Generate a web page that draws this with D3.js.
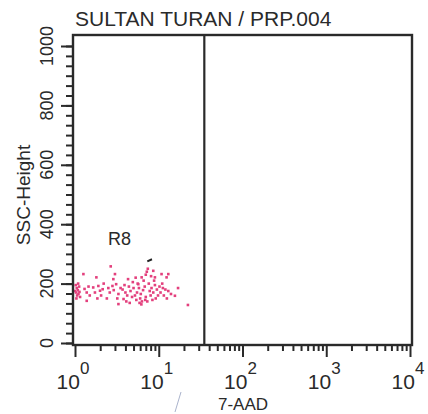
<!DOCTYPE html>
<html><head><meta charset="utf-8">
<script src="https://cdn.jsdelivr.net/npm/d3@7"></script>
<style>html,body{margin:0;padding:0;background:#fff;}svg{display:block;}</style>
</head><body>
<svg id="c" width="428" height="414"></svg>
<script>
const title = "SULTAN TURAN / PRP.004";
const xLabel = "7-AAD";
const yLabel = "SSC-Height";
const gateLabel = "R8";
const gateX = 35;
const yTickValues = [0, 200, 400, 600, 800, 1000];
const xTickExponents = [0, 1, 2, 3, 4];
// events: 7-AAD (log), SSC-Height (linear)
const eventX = [1.02,1.05,1.08,1.03,1.1,1.06,1.12,1.0,1.15,1.04,1.09,1.13,
  1.26,1.3,1.38,1.38,1.45,1.5,
  1.65,1.73,1.8,1.9,1.99,2.14,2.05,1.85,2.2,
  2.67,2.5,2.6,2.8,3.0,2.87,3.1,2.9,3.3,3.3,3.5,2.4,3.2,
  3.7,3.9,4.0,4.2,4.4,4.6,4.8,4.1,3.8,4.5,4.9,4.3,5.0,
  5.2,5.4,5.5,5.6,5.8,6.0,6.1,6.3,6.5,6.6,6.8,7.0,5.3,6.2,5.9,6.9,7.0,5.7,6.25,
  7.2,7.4,7.6,7.8,8.0,8.2,8.4,8.6,8.8,9.0,9.2,9.5,9.8,7.3,8.1,9.0,8.6,
  10.2,10.5,11,11.5,12,12.5,13,10.8,12.4,13,14,15.6,11.2,
  17,22.3];
const eventY = [195,185,178,170,165,160,190,175,155,150,200,172,
  232,182,170,142,190,160,
  187,170,221,192,176,181,160,150,200,
  258,185,170,192,232,215,198,178,165,131,185,150,150,
  180,195,170,160,190,175,155,140,148,135,205,215,185,
  160,145,170,200,185,150,165,140,178,210,190,155,220,130,135,145,230,198,221,
  240,250,200,175,160,185,145,170,210,195,150,180,160,140,225,221,243,
  190,170,200,160,180,150,175,232,221,232,165,159,185,
  185,128];

const svg = d3.select("#c");
const ink = "#2a2a2a";
const font = "'Liberation Sans', Arial, Helvetica, sans-serif";

const x = d3.scaleLog().domain([1, 1e4]).range([75, 410]);
const y = d3.scaleLinear().domain([0, 1000]).range([343, 46]);
const frame = {l: 73, r: 412, t: 35, b: 345};

// title
svg.append("text").attr("x", 75).attr("y", 26)
  .attr("font-family", font).attr("font-size", 21).attr("fill", ink).text(title);

// points
const pts = eventX.map((v, i) => ({x: v, y: eventY[i]}));
svg.append("g").selectAll("rect").data(pts).join("rect")
  .attr("x", d => x(d.x) - 1.3).attr("y", d => y(d.y) - 1.3)
  .attr("width", 2.6).attr("height", 2.6).attr("fill", "#e3407d");

// frame
svg.append("rect").attr("x", frame.l).attr("y", frame.t)
  .attr("width", frame.r - frame.l).attr("height", frame.b - frame.t)
  .attr("fill", "none").attr("stroke", ink).attr("stroke-width", 2.4);

// gate line
svg.append("line").attr("x1", x(gateX)).attr("x2", x(gateX))
  .attr("y1", frame.t).attr("y2", frame.b)
  .attr("stroke", ink).attr("stroke-width", 2.2);

// gate label and marker
svg.append("text").attr("x", 108).attr("y", 245)
  .attr("font-family", font).attr("font-size", 18).attr("fill", ink).text(gateLabel);
svg.append("line").attr("x1", x(7.3)).attr("y1", y(275)).attr("x2", x(8.3)).attr("y2", y(282))
  .attr("stroke", "#222").attr("stroke-width", 2);

// y axis ticks
const yMinor = d3.range(0, 1000.1, 200 / 6);
const yAxisMinor = d3.axisLeft(y).tickValues(yMinor).tickSize(7).tickFormat("");
const gYm = svg.append("g").attr("transform", `translate(${frame.l},0)`).call(yAxisMinor);
const yAxisMajor = d3.axisLeft(y).tickValues(yTickValues).tickSize(12).tickFormat("");
const gY = svg.append("g").attr("transform", `translate(${frame.l},0)`).call(yAxisMajor);
[gYm, gY].forEach(g => {
  g.select(".domain").remove();
  g.selectAll("line").attr("stroke", ink).attr("stroke-width", 2);
});
svg.append("g").selectAll("text").data(yTickValues).join("text")
  .attr("transform", d => `translate(53,${y(d)}) rotate(-90)`)
  .attr("text-anchor", "middle").attr("font-family", font).attr("font-size", 18)
  .attr("fill", ink).text(d => d);
svg.append("text").attr("transform", `translate(30,195) rotate(-90)`)
  .attr("text-anchor", "middle").attr("font-family", font).attr("font-size", 19)
  .attr("fill", ink).text(yLabel);

// x axis ticks
const xMinor = [];
for (let e = 0; e < 4; e++) for (let m = 2; m <= 9; m++) xMinor.push(m * Math.pow(10, e));
const xAxisMinor = d3.axisBottom(x).tickValues(xMinor).tickSize(6).tickFormat("");
const gXm = svg.append("g").attr("transform", `translate(0,${frame.b})`).call(xAxisMinor);
const xAxisMajor = d3.axisBottom(x).tickValues(xTickExponents.map(e => Math.pow(10, e))).tickSize(12).tickFormat("");
const gX = svg.append("g").attr("transform", `translate(0,${frame.b})`).call(xAxisMajor);
[gXm, gX].forEach(g => {
  g.select(".domain").remove();
  g.selectAll("line").attr("stroke", ink).attr("stroke-width", 2);
});
const xl = svg.append("g").selectAll("text").data(xTickExponents).join("text")
  .attr("x", d => x(Math.pow(10, d)) - 2).attr("y", 389)
  .attr("text-anchor", "middle").attr("font-family", font).attr("fill", ink);
xl.append("tspan").attr("font-size", 21).text("10");
xl.append("tspan").attr("font-size", 17).attr("dy", -15).text(d => d);

svg.append("text").attr("x", 243).attr("y", 410).attr("text-anchor", "middle")
  .attr("font-family", font).attr("font-size", 17).attr("fill", ink).text(xLabel);

// faint pen mark
svg.append("line").attr("x1", 181).attr("y1", 392).attr("x2", 175).attr("y2", 412)
  .attr("stroke", "#aab3cc").attr("stroke-width", 1);
</script>
</body></html>
